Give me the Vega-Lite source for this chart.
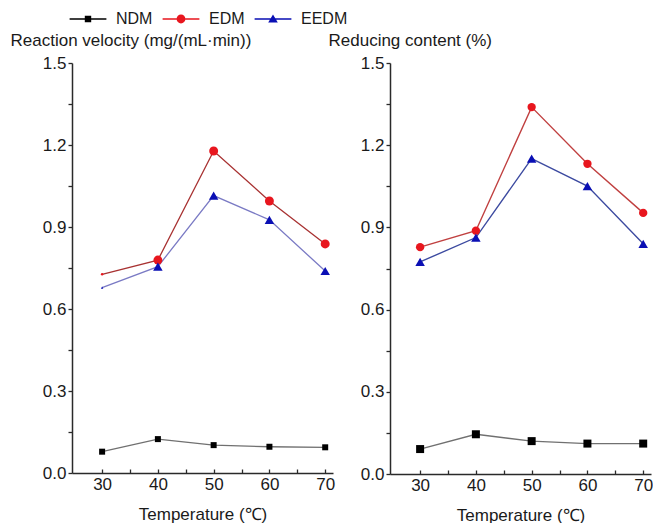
{
  "$schema": "https://vega.github.io/schema/vega-lite/v6.json",
  "autosize": "pad",
  "padding": {"left": 10, "top": 11, "right": 0, "bottom": 0},
  "bounds": "flush",
  "spacing": 57,
  "config": {
    "font": "Liberation Sans",
    "view": {"stroke": null},
    "axis": {"grid": false, "ticks": true, "domainColor": "#2a2a2a", "domainWidth": 1.5, "tickColor": "#2a2a2a", "tickWidth": 1.3, "labelFontSize": 17, "labelColor": "#1a1a1a", "titleFontSize": 17, "titleFontWeight": "normal", "titleColor": "#1a1a1a"}
  },
  "datasets": {
    "rv": [
      {"T": 30, "series": "NDM", "value": 0.078}, {"T": 40, "series": "NDM", "value": 0.124}, {"T": 50, "series": "NDM", "value": 0.102}, {"T": 60, "series": "NDM", "value": 0.096}, {"T": 70, "series": "NDM", "value": 0.094},
      {"T": 30, "series": "EDM", "value": 0.727}, {"T": 40, "series": "EDM", "value": 0.779}, {"T": 50, "series": "EDM", "value": 1.178}, {"T": 60, "series": "EDM", "value": 0.995}, {"T": 70, "series": "EDM", "value": 0.838},
      {"T": 30, "series": "EEDM", "value": 0.678}, {"T": 40, "series": "EEDM", "value": 0.755}, {"T": 50, "series": "EEDM", "value": 1.015}, {"T": 60, "series": "EEDM", "value": 0.926}, {"T": 70, "series": "EEDM", "value": 0.739}
    ],
    "rc": [
      {"T": 30, "series": "NDM", "value": 0.091}, {"T": 40, "series": "NDM", "value": 0.145}, {"T": 50, "series": "NDM", "value": 0.120}, {"T": 60, "series": "NDM", "value": 0.111}, {"T": 70, "series": "NDM", "value": 0.111},
      {"T": 30, "series": "EDM", "value": 0.828}, {"T": 40, "series": "EDM", "value": 0.888}, {"T": 50, "series": "EDM", "value": 1.339}, {"T": 60, "series": "EDM", "value": 1.132}, {"T": 70, "series": "EDM", "value": 0.953},
      {"T": 30, "series": "EEDM", "value": 0.774}, {"T": 40, "series": "EEDM", "value": 0.863}, {"T": 50, "series": "EEDM", "value": 1.151}, {"T": 60, "series": "EEDM", "value": 1.051}, {"T": 70, "series": "EEDM", "value": 0.840}
    ]
  },
  "resolve": {"scale": {"stroke": "independent"}},
  "hconcat": [
    {
      "width": 261,
      "height": 410,
      "data": {"name": "rv"},
      "encoding": {
        "x": {"field": "T", "type": "quantitative", "scale": {"domain": [24.6, 71.4], "nice": false, "zero": false},
          "axis": {"values": [30, 35, 40, 45, 50, 55, 60, 65, 70], "labelExpr": "datum.value % 10 === 0 ? datum.label : ''", "tickSize": -4, "labelPadding": 7, "title": "Temperature (℃)", "titlePadding": 14}},
        "y": {"field": "value", "type": "quantitative", "scale": {"domain": [0, 1.5], "nice": false},
          "axis": {"values": [0, 0.15, 0.3, 0.45, 0.6, 0.75, 0.9, 1.05, 1.2, 1.35, 1.5], "labelExpr": "abs(datum.value*10/3 - round(datum.value*10/3)) < 0.01 ? format(datum.value, '.1f') : ''", "tickSize": 4, "labelPadding": 2, "title": "Reaction velocity (mg/(mL·min))", "titleAngle": 0, "titleX": -62, "titleY": -18, "titleAlign": "left", "titleBaseline": "alphabetic"}}
      },
      "layer": [
        {"mark": {"type": "line", "strokeWidth": 1.3},
          "encoding": {"stroke": {"field": "series", "type": "nominal", "scale": {"domain": ["NDM", "EDM", "EEDM"], "range": ["#707070", "#a83232", "#7a7ac4"]}, "legend": null}}},
        {"mark": {"type": "point", "filled": true, "opacity": 1, "strokeWidth": 0},
          "encoding": {
            "color": {"field": "series", "type": "nominal", "scale": {"domain": ["NDM", "EDM", "EEDM"], "range": ["#000000", "#e8161e", "#0a0fb4"]}, "title": null},
            "shape": {"condition": [{"test": "datum.series === 'NDM'", "value": "square"}, {"test": "datum.series === 'EDM'", "value": "circle"}], "value": "triangle-up"},
            "size": {"condition": [{"test": "datum.T === 30 && datum.series !== 'NDM'", "value": 6}, {"test": "datum.series === 'NDM'", "value": 36}, {"test": "datum.series === 'EDM'", "value": 80}], "value": 90}
          }},
        {"transform": [{"filter": "datum.series === 'none'"}],
          "mark": {"type": "point", "filled": true, "opacity": 1, "strokeWidth": 0, "size": 64},
          "encoding": {
            "color": {"field": "series", "type": "nominal", "scale": {"domain": ["NDM", "EDM", "EEDM"], "range": ["#000000", "#e8161e", "#0a0fb4"]}, "title": null},
            "shape": {"field": "series", "type": "nominal", "title": null,
              "scale": {"domain": ["NDM", "EDM", "EEDM"], "range": [
                "M-4.6,-0.16L4.6,-0.16L4.6,0.16L-4.6,0.16Z M-0.8,-0.8L0.8,-0.8L0.8,0.8L-0.8,0.8Z",
                "M-4.6,-0.16L4.6,-0.16L4.6,0.16L-4.6,0.16Z M-1.1,0A1.1,1.1 0 1,1 1.1,0A1.1,1.1 0 1,1 -1.1,0Z",
                "M-4.6,-0.16L4.6,-0.16L4.6,0.16L-4.6,0.16Z M0,-1.1L1.2,0.9L-1.2,0.9Z"]},
              "legend": {"orient": "none", "legendX": 8, "legendY": -52, "direction": "horizontal", "symbolSize": 64, "labelFontSize": 16, "labelColor": "#1a1a1a", "labelOffset": 20, "columnPadding": 9, "padding": 0, "symbolStrokeWidth": 0}}
          }}
      ]
    },
    {
      "width": 261,
      "height": 411,
      "data": {"name": "rc"},
      "encoding": {
        "x": {"field": "T", "type": "quantitative", "scale": {"domain": [24.6, 71.4], "nice": false, "zero": false},
          "axis": {"values": [30, 35, 40, 45, 50, 55, 60, 65, 70], "labelExpr": "datum.value % 10 === 0 ? datum.label : ''", "tickSize": -4, "labelPadding": 7, "title": "Temperature (℃)", "titlePadding": 14}},
        "y": {"field": "value", "type": "quantitative", "scale": {"domain": [0, 1.5], "nice": false},
          "axis": {"values": [0, 0.15, 0.3, 0.45, 0.6, 0.75, 0.9, 1.05, 1.2, 1.35, 1.5], "labelExpr": "abs(datum.value*10/3 - round(datum.value*10/3)) < 0.01 ? format(datum.value, '.1f') : ''", "tickSize": 4, "labelPadding": 2, "title": "Reducing content (%)", "titleAngle": 0, "titleX": -62, "titleY": -18, "titleAlign": "left", "titleBaseline": "alphabetic"}}
      },
      "layer": [
        {"mark": {"type": "line", "strokeWidth": 1.4},
          "encoding": {"stroke": {"field": "series", "type": "nominal", "scale": {"domain": ["NDM", "EDM", "EEDM"], "range": ["#707070", "#c04040", "#3c4aa0"]}, "legend": null}}},
        {"mark": {"type": "point", "filled": true, "opacity": 1, "strokeWidth": 0},
          "encoding": {
            "color": {"field": "series", "type": "nominal", "scale": {"domain": ["NDM", "EDM", "EEDM"], "range": ["#000000", "#e8161e", "#0a0fb4"]}, "title": null},
            "shape": {"condition": [{"test": "datum.series === 'NDM'", "value": "square"}, {"test": "datum.series === 'EDM'", "value": "circle"}], "value": "triangle-up"},
            "size": {"condition": [{"test": "datum.series === 'NDM'", "value": 64}, {"test": "datum.series === 'EDM'", "value": 70}], "value": 90}
          }}
      ]
    }
  ]
}
